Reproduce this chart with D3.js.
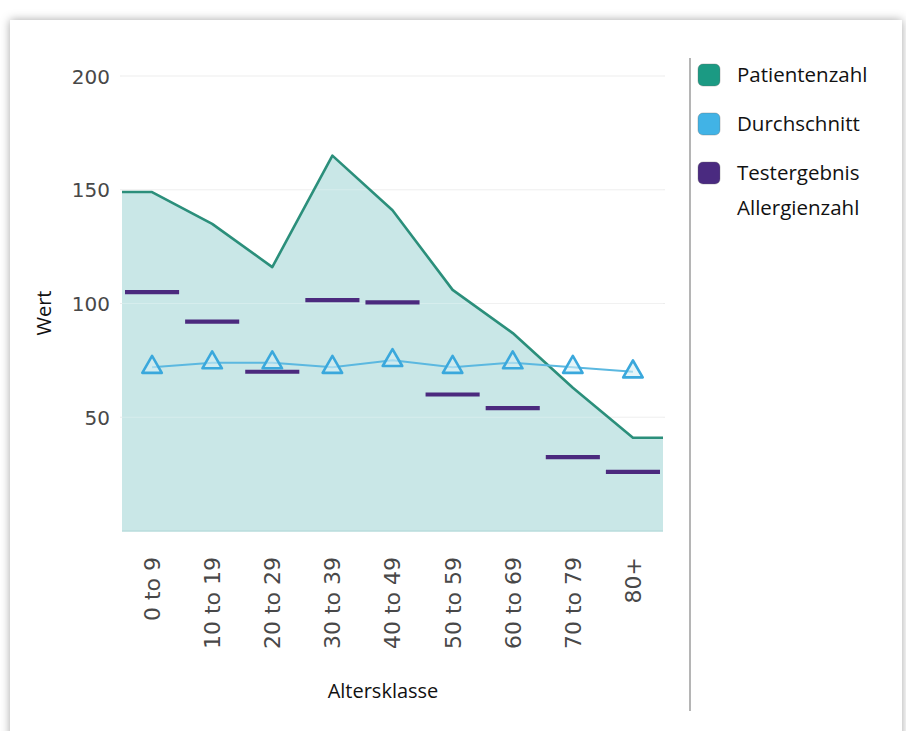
<!DOCTYPE html>
<html>
<head>
<meta charset="utf-8">
<script src="https://cdn.jsdelivr.net/npm/d3@7/dist/d3.min.js"></script>
<style>
  html, body { margin: 0; padding: 0; background: #fff; }
  body { width: 906px; height: 731px; overflow: hidden; position: relative; }
  .card {
    position: absolute; left: 10px; top: 20px; width: 892px; height: 730px;
    background: #fff; box-shadow: 0 0 9px rgba(0,0,0,0.35);
  }
  svg { position: absolute; left: 0; top: 0; }
</style>
</head>
<body>
<div class="card"></div>
<svg id="chart" width="906" height="731"></svg>
<script>
/* --- dados ---------------------------------------------------------------- */
var categorias   = ['0 to 9', '10 to 19', '20 to 29', '30 to 39', '40 to 49',
                    '50 to 59', '60 to 69', '70 to 79', '80+'];
var patienten    = [149, 135, 116, 165, 141, 106, 87, 63, 41];
var durchschnitt = [72, 74, 74, 72, 75, 72, 74, 72, 70];
var allergien    = [105, 92, 70, 101.5, 100.5, 60, 54, 32.5, 26];
var yTicks       = [50, 100, 150, 200];
var legende      = [
  { label: ['Patientenzahl'], color: '#1b9a83' },
  { label: ['Durchschnitt'], color: '#41b3e6' },
  { label: ['Testergebnis', 'Allergienzahl'], color: '#4a2a80' }
];

(function () {
  'use strict';

  var FONT_TICK = 'DejaVu Sans, Verdana, sans-serif';
  var FONT_TEXT = 'Open Sans, Noto Sans, sans-serif';

  var svg = d3.select('#chart');

  /* --- escalas ------------------------------------------------------------ */
  var x = d3.scaleBand().domain(categorias).range([122, 663]).padding(0);
  var y = d3.scaleLinear().domain([0, 200]).range([531, 76]);
  var cx = function (c) { return x(c) + x.bandwidth() / 2; };
  var x0 = x.range()[0], x1 = x.range()[1];

  /* --- grade -------------------------------------------------------------- */
  svg.append('g').selectAll('line').data(yTicks).join('line')
    .attr('x1', x0 - 2).attr('x2', x1 + 2)
    .attr('y1', function (d) { return y(d); })
    .attr('y2', function (d) { return y(d); })
    .attr('stroke', '#ececec').attr('stroke-width', 1.2);

  /* --- área Patientenzahl (degrau nas bordas) ------------------------------ */
  var pts = [{ px: x0, v: patienten[0] }]
    .concat(categorias.map(function (c, i) { return { px: cx(c), v: patienten[i] }; }))
    .concat([{ px: x1, v: patienten[patienten.length - 1] }]);

  svg.append('path').datum(pts)
    .attr('d', d3.area().x(function (d) { return d.px; }).y0(y(0)).y1(function (d) { return y(d.v); }))
    .attr('fill', '#c9e7e7');

  /* gridlines levemente visíveis sobre a área */
  svg.append('g').selectAll('line').data(yTicks).join('line')
    .attr('x1', x0).attr('x2', x1)
    .attr('y1', function (d) { return y(d); })
    .attr('y2', function (d) { return y(d); })
    .attr('stroke', '#ffffff').attr('stroke-opacity', 0.25);

  svg.append('line')
    .attr('x1', x0).attr('x2', x1).attr('y1', y(0)).attr('y2', y(0))
    .attr('stroke', '#b9dcdc').attr('stroke-width', 1.5);

  svg.append('path').datum(pts)
    .attr('d', d3.line().x(function (d) { return d.px; }).y(function (d) { return y(d.v); }))
    .attr('fill', 'none')
    .attr('stroke', '#2b8f7b').attr('stroke-width', 2.6)
    .attr('stroke-linejoin', 'round');

  /* --- Testergebnis: traços horizontais ----------------------------------- */
  var dashW = x.bandwidth() * 0.9;
  svg.append('g').selectAll('line').data(allergien).join('line')
    .attr('x1', function (d, i) { return cx(categorias[i]) - dashW / 2; })
    .attr('x2', function (d, i) { return cx(categorias[i]) + dashW / 2; })
    .attr('y1', function (d) { return y(d); })
    .attr('y2', function (d) { return y(d); })
    .attr('stroke', '#4b2a7e').attr('stroke-width', 4.2);

  /* --- Durchschnitt: linha + triângulos ----------------------------------- */
  svg.append('path').datum(durchschnitt)
    .attr('d', d3.line()
      .x(function (d, i) { return cx(categorias[i]); })
      .y(function (d) { return y(d); }))
    .attr('fill', 'none')
    .attr('stroke', '#5bb8e0').attr('stroke-width', 2);

  svg.append('g').selectAll('path').data(durchschnitt).join('path')
    .attr('d', d3.symbol(d3.symbolTriangle).size(165))
    .attr('transform', function (d, i) { return 'translate(' + cx(categorias[i]) + ',' + y(d) + ')'; })
    .attr('fill', '#d4eef5').attr('fill-opacity', 0.6)
    .attr('stroke', '#3aa8dc').attr('stroke-width', 2.6)
    .attr('stroke-linejoin', 'round');

  /* --- eixo Y ------------------------------------------------------------- */
  var gy = svg.append('g').attr('transform', 'translate(' + (x0 - 10) + ',0)')
    .call(d3.axisLeft(y).tickValues(yTicks).tickSize(0).tickPadding(2));
  gy.select('.domain').remove();
  gy.selectAll('text')
    .attr('font-family', FONT_TICK).attr('font-size', 20)
    .attr('fill', '#484848').attr('dy', '0.35em');

  /* --- eixo X ------------------------------------------------------------- */
  var gx = svg.append('g').attr('transform', 'translate(0,' + y(0) + ')')
    .call(d3.axisBottom(x).tickSize(0));
  gx.select('.domain').remove();
  gx.selectAll('text')
    .attr('font-family', FONT_TICK).attr('font-size', 22)
    .attr('fill', '#484848')
    .attr('text-anchor', 'end')
    .attr('transform', 'rotate(-90)')
    .attr('x', -26).attr('y', 0).attr('dy', '0.36em');

  /* --- títulos dos eixos --------------------------------------------------- */
  svg.append('text')
    .attr('transform', 'translate(51,' + 313 + ') rotate(-90)')
    .attr('text-anchor', 'middle')
    .attr('font-family', FONT_TEXT).attr('font-size', 20).attr('fill', '#111')
    .text('Wert');

  svg.append('text')
    .attr('x', 383).attr('y', 698)
    .attr('text-anchor', 'middle')
    .attr('font-family', FONT_TEXT).attr('font-size', 20).attr('fill', '#111')
    .text('Altersklasse');

  /* --- legenda ------------------------------------------------------------ */
  svg.append('line')
    .attr('x1', 690).attr('x2', 690).attr('y1', 58).attr('y2', 711)
    .attr('stroke', '#b5b5b5').attr('stroke-width', 2);

  var lg = svg.append('g').selectAll('g').data(legende).join('g')
    .attr('transform', function (d, i) { return 'translate(698,' + (75 + i * 49) + ')'; });

  lg.append('rect')
    .attr('x', 0).attr('y', -11).attr('width', 22).attr('height', 22)
    .attr('rx', 5).attr('ry', 5)
    .attr('fill', function (d) { return d.color; })
    .attr('stroke', '#666').attr('stroke-opacity', 0.35);

  lg.each(function (d) {
    var t = d3.select(this).append('text')
      .attr('font-family', FONT_TEXT).attr('font-size', 20.5).attr('fill', '#111');
    d.label.forEach(function (s, k) {
      t.append('tspan').attr('x', 39).attr('y', k * 35).attr('dy', '0.35em').text(s);
    });
  });
})();
</script>
</body>
</html>
